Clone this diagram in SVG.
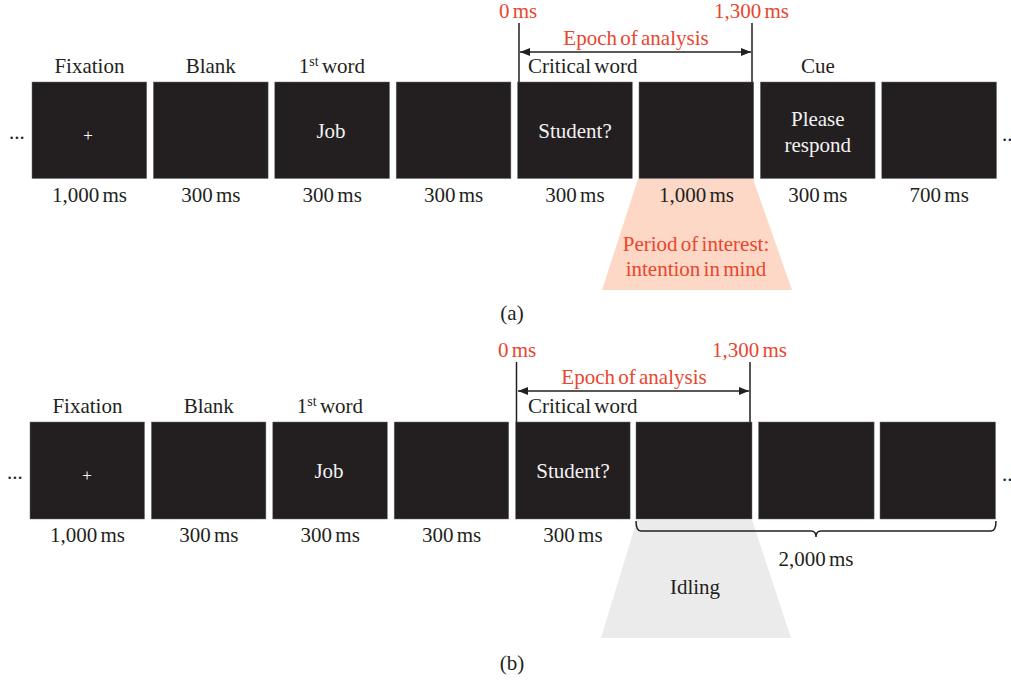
<svg xmlns="http://www.w3.org/2000/svg" width="1011" height="680" viewBox="0 0 1011 680">
<defs>
<style>
text{font-family:"Liberation Serif","DejaVu Serif",serif;font-size:21px;fill:#231f20;word-spacing:-2px}
.c{text-anchor:middle}
.r{fill:#e8462f}
.w{fill:#f2f2f2}
.p{font-size:17px;fill:#ffffff}
.box{fill:#231f20;stroke:#6b6b6b;stroke-width:0.5}
.ln{stroke:#231f20;stroke-width:1.5;fill:none}
</style>
<marker id="ah" viewBox="0 0 10 8" refX="10" refY="4" markerWidth="10" markerHeight="8" markerUnits="userSpaceOnUse" orient="auto-start-reverse">
<path d="M0,0 L10,4 L0,8 Z" fill="#231f20"/>
</marker>
</defs>
<rect width="1011" height="680" fill="#fff"/>

<!-- Panel (a) -->
<g id="a-period">
<polygon points="638,179 753,179 792,290 602,290" fill="#fdd8c6"/>
<text class="c r" x="696" y="251">Period of interest:</text>
<text class="c r" x="696" y="276">intention in mind</text>
</g>
<g id="a-ellipsis"><text x="9" y="139">...</text><text x="1002" y="141">..</text></g>
<g id="a-fixation"><text class="c" x="89.4" y="73">Fixation</text><rect class="box" x="32" y="82" width="114.7" height="96.5"/><text class="c p" x="88" y="141">+</text><text class="c" x="89.4" y="202">1,000 ms</text></g>
<g id="a-blank"><text class="c" x="210.8" y="73">Blank</text><rect class="box" x="153.4" y="82" width="114.7" height="96.5"/><text class="c" x="210.8" y="202">300 ms</text></g>
<g id="a-word1"><text class="c" x="332" y="73">1<tspan dy="-7" style="font-size:14px">st</tspan><tspan dy="7"> word</tspan></text><rect class="box" x="274.8" y="82" width="114.7" height="96.5"/><text class="c w" x="331" y="138">Job</text><text class="c" x="332.2" y="202">300 ms</text></g>
<g id="a-blank2"><rect class="box" x="396.2" y="82" width="114.7" height="96.5"/><text class="c" x="453.6" y="202">300 ms</text></g>
<g id="a-critical"><text x="528" y="73">Critical word</text><rect class="box" x="517.6" y="82" width="114.7" height="96.5"/><text class="c w" x="575" y="138">Student?</text><text class="c" x="575" y="202">300 ms</text></g>
<g id="a-blank3"><rect class="box" x="639" y="82" width="114.7" height="96.5"/><text class="c" x="696.4" y="202">1,000 ms</text></g>
<g id="a-cue"><text class="c" x="817.8" y="73">Cue</text><rect class="box" x="760.4" y="82" width="114.7" height="96.5"/><text class="c w" x="817.8" y="126">Please</text><text class="c w" x="817.8" y="152">respond</text><text class="c" x="817.8" y="202">300 ms</text></g>
<g id="a-blank4"><rect class="box" x="881.8" y="82" width="114.7" height="96.5"/><text class="c" x="939.2" y="202">700 ms</text></g>
<g id="a-epoch">
<text class="r" x="499" y="18">0 ms</text>
<text class="r" x="789" y="18" text-anchor="end">1,300 ms</text>
<text class="c r" x="636" y="45">Epoch of analysis</text>
</g>
<g id="a-connectors">
<line class="ln" x1="519" y1="23" x2="519" y2="82"/>
<line class="ln" x1="752" y1="23" x2="752" y2="82"/>
<line class="ln" x1="520" y1="52" x2="751" y2="52" marker-start="url(#ah)" marker-end="url(#ah)"/>
</g>
<text class="c" x="512" y="320">(a)</text>

<!-- Panel (b) -->
<g id="b-idling">
<polygon points="637,520 752,520 791,638 601,638" fill="#ebebeb"/>
<text class="c" x="695" y="594">Idling</text>
</g>
<g id="b-ellipsis"><text x="7" y="479">...</text><text x="1002" y="481">..</text></g>
<g id="b-fixation"><text class="c" x="87.4" y="413">Fixation</text><rect class="box" x="30" y="422" width="114.5" height="97"/><text class="c p" x="87" y="481">+</text><text class="c" x="87.4" y="542">1,000 ms</text></g>
<g id="b-blank"><text class="c" x="208.8" y="413">Blank</text><rect class="box" x="151.4" y="422" width="114.5" height="97"/><text class="c" x="208.8" y="542">300 ms</text></g>
<g id="b-word1"><text class="c" x="330" y="413">1<tspan dy="-7" style="font-size:14px">st</tspan><tspan dy="7"> word</tspan></text><rect class="box" x="272.8" y="422" width="114.5" height="97"/><text class="c w" x="329" y="478">Job</text><text class="c" x="330.2" y="542">300 ms</text></g>
<g id="b-blank2"><rect class="box" x="394.2" y="422" width="114.5" height="97"/><text class="c" x="451.6" y="542">300 ms</text></g>
<g id="b-critical"><text x="528" y="413">Critical word</text><rect class="box" x="515.6" y="422" width="114.5" height="97"/><text class="c w" x="573" y="478">Student?</text><text class="c" x="573" y="542">300 ms</text></g>
<g id="b-blank3"><rect class="box" x="636" y="422" width="116" height="97"/></g>
<g id="b-blank4"><rect class="box" x="758.6" y="422" width="115.5" height="97"/></g>
<g id="b-blank5"><rect class="box" x="880" y="422" width="115.5" height="97"/><text class="c" x="816" y="566">2,000 ms</text></g>
<g id="b-epoch">
<text class="r" x="498" y="357">0 ms</text>
<text class="r" x="787" y="357" text-anchor="end">1,300 ms</text>
<text class="c r" x="634" y="384">Epoch of analysis</text>
</g>
<g id="b-connectors">
<line class="ln" x1="516.5" y1="362" x2="516.5" y2="422"/>
<line class="ln" x1="750" y1="362" x2="750" y2="422"/>
<line class="ln" x1="518" y1="391" x2="749" y2="391" marker-start="url(#ah)" marker-end="url(#ah)"/>
<path class="ln" d="M636,521 Q636,531 641,531 H811 Q816,531 816,537 Q816,531 821,531 H991 Q996,531 996,521" stroke-width="1.3"/>
</g>
<text class="c" x="512" y="670">(b)</text>
</svg>
